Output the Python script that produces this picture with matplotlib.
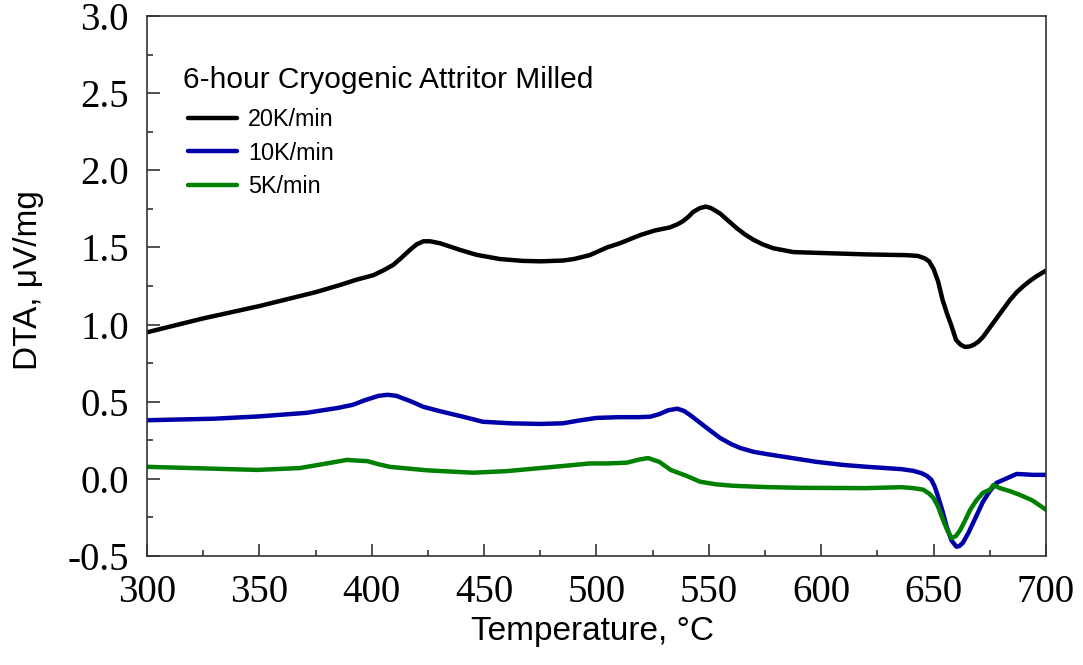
import numpy as np
import matplotlib
matplotlib.use("Agg")
import matplotlib.pyplot as plt
from matplotlib.ticker import MultipleLocator, FormatStrFormatter

# DTA traces (temperature in °C, signal in µV/mg)
t_20 = [300, 325, 350, 375, 386, 393, 400.7, 405, 409.6, 413, 417, 420, 423, 426, 430.4,
        435, 439.3, 446.7, 457, 467, 475, 485, 490, 497, 504.7, 510.4, 519.4, 526, 532.7, 536,
        538.5, 541, 543, 546, 548.7, 551, 555, 558.5, 562.4, 566, 569.8, 574, 578.6, 587.6, 598,
        620, 638, 643, 646, 648, 650, 652, 654, 656, 658, 660, 662, 664, 666,
        668, 670, 672, 675, 678, 681, 684, 687, 690, 693, 696, 700]
dta_20 = [0.95, 1.04, 1.12, 1.21, 1.257, 1.29, 1.32, 1.35, 1.387, 1.43, 1.484, 1.52, 1.54, 1.54, 1.527,
          1.505, 1.484, 1.452, 1.425, 1.413, 1.41, 1.415, 1.425, 1.45, 1.50, 1.527, 1.58, 1.61, 1.63, 1.65,
          1.67, 1.70, 1.73, 1.755, 1.765, 1.755, 1.72, 1.675, 1.625, 1.585, 1.55, 1.52, 1.495, 1.47, 1.465,
          1.455, 1.45, 1.445, 1.43, 1.41, 1.36, 1.28, 1.16, 1.07, 0.99, 0.90, 0.87, 0.855, 0.858,
          0.87, 0.89, 0.92, 0.98, 1.04, 1.10, 1.16, 1.21, 1.25, 1.285, 1.315, 1.35]

t_10 = [300, 330, 350, 371, 385, 391.6, 397, 403, 407, 411, 417, 423, 430, 440, 449.5,
        462, 475, 485, 493, 500, 510, 519, 524, 528, 532, 536, 539, 542, 546, 550,
        555, 560, 564, 570, 576, 587, 598, 610, 620.5, 635.7, 641, 644.6, 647, 649, 650.5,
        652, 654, 655.8, 658, 660.2, 661.5, 663, 665.5, 667.6, 670, 672, 675, 678, 682,
        687, 694.3, 700]
dta_10 = [0.38, 0.39, 0.405, 0.428, 0.46, 0.48, 0.51, 0.538, 0.545, 0.538, 0.505, 0.467, 0.44, 0.405, 0.37,
          0.36, 0.356, 0.36, 0.38, 0.395, 0.40, 0.40, 0.403, 0.42, 0.445, 0.455, 0.44, 0.41, 0.365, 0.32,
          0.265, 0.225, 0.20, 0.175, 0.16, 0.135, 0.11, 0.09, 0.078, 0.063, 0.052, 0.037, 0.02, -0.006, -0.05,
          -0.115, -0.21, -0.31, -0.40, -0.44, -0.435, -0.415, -0.35, -0.285, -0.21, -0.147, -0.08, -0.026, 0.0,
          0.032, 0.026, 0.026]

t_5 = [300, 320, 349, 368, 380, 389, 394, 398, 403, 408, 425, 445, 460, 475, 490,
       497, 505, 513.5, 519, 523, 528, 533, 540, 546, 553, 561, 575, 590.5, 620, 635.7,
       641, 645.4, 648, 650, 652, 653.6, 656, 658, 660, 661.9, 664, 666.3, 669, 672, 675.1,
       676.6, 679.5, 684, 688.4, 694, 700]
dta_5 = [0.078, 0.07, 0.058, 0.07, 0.10, 0.123, 0.118, 0.115, 0.095, 0.078, 0.055, 0.04, 0.05, 0.07, 0.09,
         0.10, 0.10, 0.105, 0.125, 0.135, 0.11, 0.058, 0.02, -0.018, -0.035, -0.045, -0.053, -0.058, -0.06, -0.054,
         -0.06, -0.07, -0.095, -0.125, -0.18, -0.244, -0.33, -0.385, -0.37, -0.33, -0.27, -0.20, -0.14, -0.09, -0.07,
         -0.04, -0.06, -0.08, -0.104, -0.14, -0.20]

labels = ["20K/min", "10K/min", "5K/min"]
colors = ["#000000", "#0000a8", "#008000"]
legend_title = "6-hour Cryogenic Attritor Milled"

sans = ["Liberation Sans", "DejaVu Sans"]
serif = ["Liberation Serif", "DejaVu Serif"]

fig = plt.figure(figsize=(10.83, 6.65), dpi=100)
ax = fig.add_axes([0.1357, 0.1639, 0.8301, 0.8120])

for t, d, lab, c in zip([t_20, t_10, t_5], [dta_20, dta_10, dta_5], labels, colors):
    ax.plot(t, d, color=c, lw=3.2, label=lab, solid_capstyle="round", solid_joinstyle="round")

ax.set_xlim(300, 700)
ax.set_ylim(-0.5, 3.0)
ax.xaxis.set_major_locator(MultipleLocator(50))
ax.xaxis.set_minor_locator(MultipleLocator(25))
ax.yaxis.set_major_locator(MultipleLocator(0.5))
ax.yaxis.set_minor_locator(MultipleLocator(0.25))
ax.yaxis.set_major_formatter(FormatStrFormatter("%.1f"))
ax.tick_params(which="both", direction="in", top=False, right=False, width=1.2, color="#333333")
ax.tick_params(which="major", length=9)
ax.tick_params(which="minor", length=4.5)
ax.tick_params(axis="x", which="major", pad=13)
ax.tick_params(axis="y", which="major", pad=13)
for lbl in ax.get_xticklabels() + ax.get_yticklabels():
    lbl.set_family(serif)
    lbl.set_fontsize(28)
for s in ax.spines.values():
    s.set_linewidth(1.2)
    s.set_color("#333333")

ax.set_xlabel("Temperature, °C", family=sans, fontsize=24)
ax.set_ylabel("DTA, μV/mg", family=sans, fontsize=24)
ax.xaxis.set_label_coords(0.4956, -0.112)
ax.yaxis.set_label_coords(-0.115, 0.511)

ax.text(0.040, 0.8667, legend_title, transform=ax.transAxes, family=sans,
        fontsize=21.5, ha="left", va="baseline")
ax.legend(loc="upper left", bbox_to_anchor=(0.0456, 0.829), frameon=False,
          prop={"family": sans, "size": 16.8}, handlelength=2.1, handletextpad=0.47,
          labelspacing=0.44, borderaxespad=0, borderpad=0)

fig.savefig("out.png", dpi=100)
